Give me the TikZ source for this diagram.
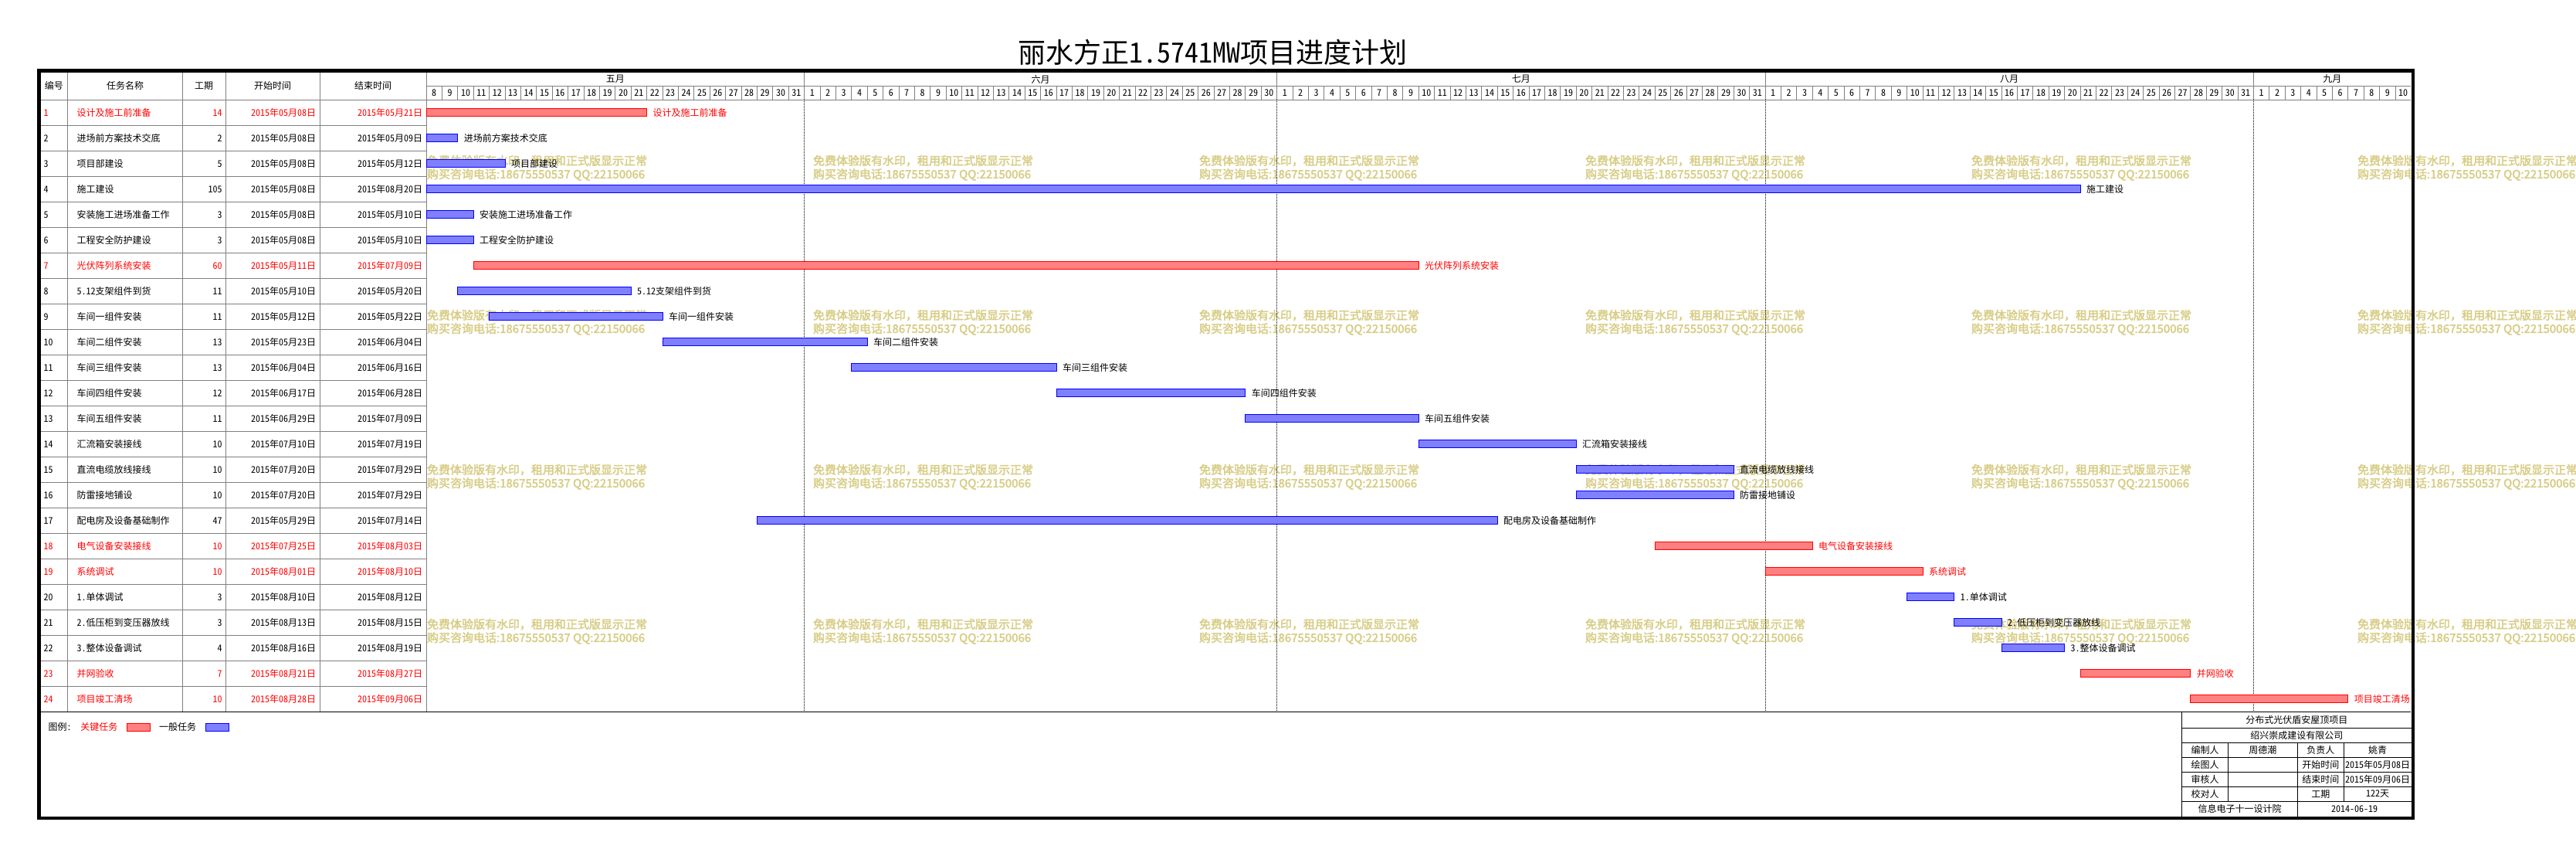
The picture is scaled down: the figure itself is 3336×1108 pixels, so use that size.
\documentclass[tikz,border=0pt]{standalone}
\usepackage{fontspec}
\setmainfont{Noto Sans CJK SC}[RawFeature=+hwid]
\newfontfamily\wmfont{Noto Sans CJK SC}[FakeBold=2.5]
\definecolor{wm}{RGB}{216,205,134}
\definecolor{gridgray}{RGB}{128,128,128}
\begin{document}
\begin{tikzpicture}[x=1pt,y=-1pt,
  every node/.style={inner sep=0pt, outer sep=0pt, font=\fontsize{12pt}{14pt}\selectfont},
  gline/.style={draw=gridgray, line width=1pt},
  bline/.style={draw=black, line width=1pt},
  ganttbar/.style={draw=#1, fill=#1!50!white, line width=1pt, minimum height=10pt, inner sep=0pt, anchor=west},
  wmtext/.style={text=wm, font=\wmfont\fontsize{15pt}{17pt}\selectfont, anchor=west},
  monthline/.style={draw=black, line width=1pt, dash pattern=on 1pt off 1pt},
  lbl/.style={anchor=west}
]
\useasboundingbox (0,0) rectangle (3336,1108);
\fill[white] (0,0) rectangle (3336,1108);

% title
\node[font=\fontsize{36pt}{40pt}\selectfont] (title) at (1570,68) {丽水方正1.5741MW项目进度计划};

% watermarks
\foreach \wx [count=\ci] in {553,1053,1553,2053,2553,3053}
  \foreach \wy [count=\ri] in {208,408,608,808} {
    \node[wmtext] (wa\ci\ri) at (\wx,\wy) {免费体验版有水印，租用和正式版显示正常};
    \node[wmtext] (wb\ci\ri) at (\wx,\wy+18) {购买咨询电话:18675550537 QQ:22150066};
  }

% table header
\node (h1) at (69.75,111) {编号};
\node (h2) at (162,111) {任务名称};
\node (h3) at (264,111) {工期};
\node (h4) at (353,111) {开始时间};
\node (h5) at (483,111) {结束时间};

% gantt header lines
\draw[gline] (552,111.7) -- (3122,111.7);
\draw[gline] (52,129.3) -- (3122,129.3);
\foreach \m in {24,54,85,116}
  \draw[gline] ({552+\m*20.4},93) -- ({552+\m*20.4},111.7);
\foreach \k in {1,...,125}
  \draw[gline] ({552+\k*20.4},111.7) -- ({552+\k*20.4},129.3);

% month labels
\node (m5) at ({552+12*20.4},102.5) {五月};
\node (m6) at ({552+39*20.4},102.5) {六月};
\node (m7) at ({552+69.5*20.4},102.5) {七月};
\node (m8) at ({552+100.5*20.4},102.5) {八月};
\node (m9) at ({552+121*20.4},102.5) {九月};

% day numbers
\foreach \k in {0,...,125} {
  \pgfmathtruncatemacro\dd{\k<24 ? \k+8 : (\k<54 ? \k-23 : (\k<85 ? \k-53 : (\k<116 ? \k-84 : \k-115)))}
  \node (day\k) at ({552+(\k+0.5)*20.4},120.5) {\dd};
}

% table grid
\foreach \cx in {87.5,236.5,292,414.5,552}
  \draw[gline] (\cx,93) -- (\cx,921.3);
\foreach \k in {1,...,23}
  \draw[gline] (52,{129.3+\k*33}) -- (552,{129.3+\k*33});

% month dotted lines
\foreach \m in {24,54,85,116}
  \draw[monthline] ({552+\m*20.4},129.3) -- ({552+\m*20.4},921.3);

% tasks
\foreach \i/\nm/\du/\sd/\ed/\s/\e/\c/\tc in {
  1/设计及施工前准备/14/2015年05月08日/2015年05月21日/0/14/red/red,
  2/进场前方案技术交底/2/2015年05月08日/2015年05月09日/0/2/blue/black,
  3/项目部建设/5/2015年05月08日/2015年05月12日/0/5/blue/black,
  4/施工建设/105/2015年05月08日/2015年08月20日/0/105/blue/black,
  5/安装施工进场准备工作/3/2015年05月08日/2015年05月10日/0/3/blue/black,
  6/工程安全防护建设/3/2015年05月08日/2015年05月10日/0/3/blue/black,
  7/光伏阵列系统安装/60/2015年05月11日/2015年07月09日/3/63/red/red,
  8/5.12支架组件到货/11/2015年05月10日/2015年05月20日/2/13/blue/black,
  9/车间一组件安装/11/2015年05月12日/2015年05月22日/4/15/blue/black,
  10/车间二组件安装/13/2015年05月23日/2015年06月04日/15/28/blue/black,
  11/车间三组件安装/13/2015年06月04日/2015年06月16日/27/40/blue/black,
  12/车间四组件安装/12/2015年06月17日/2015年06月28日/40/52/blue/black,
  13/车间五组件安装/11/2015年06月29日/2015年07月09日/52/63/blue/black,
  14/汇流箱安装接线/10/2015年07月10日/2015年07月19日/63/73/blue/black,
  15/直流电缆放线接线/10/2015年07月20日/2015年07月29日/73/83/blue/black,
  16/防雷接地铺设/10/2015年07月20日/2015年07月29日/73/83/blue/black,
  17/配电房及设备基础制作/47/2015年05月29日/2015年07月14日/21/68/blue/black,
  18/电气设备安装接线/10/2015年07月25日/2015年08月03日/78/88/red/red,
  19/系统调试/10/2015年08月01日/2015年08月10日/85/95/red/red,
  20/1.单体调试/3/2015年08月10日/2015年08月12日/94/97/blue/black,
  21/2.低压柜到变压器放线/3/2015年08月13日/2015年08月15日/97/100/blue/black,
  22/3.整体设备调试/4/2015年08月16日/2015年08月19日/100/104/blue/black,
  23/并网验收/7/2015年08月21日/2015年08月27日/105/112/red/red,
  24/项目竣工清场/10/2015年08月28日/2015年09月06日/112/122/red/red} {
  \pgfmathsetmacro\yc{129.3+(\i-0.5)*33}
  \pgfmathsetmacro\bx{552+\s*20.4}
  \pgfmathsetmacro\bw{(\e-\s)*20.4}
  \node[anchor=west, text=\tc] (n\i) at (56.5,\yc) {\i};
  \node[anchor=west, text=\tc] (t\i) at (99.5,\yc) {\nm};
  \node[anchor=east, text=\tc] (d\i) at (287.5,\yc) {\du};
  \node[anchor=east, text=\tc] (s\i) at (409,\yc) {\sd};
  \node[anchor=east, text=\tc] (e\i) at (547,\yc) {\ed};
  \node[ganttbar=\c, minimum width=\bw] (b\i) at (\bx,\yc) {};
  \node[lbl, text=\tc] (l\i) at ([xshift=8pt]b\i.east) {\nm};
}

% bottom separator
\draw[black, line width=1.5pt] (52,921.5) -- (3122,921.5);

% legend
\node[anchor=west] (lg0) at (62.7,941) {图例:};
\node[anchor=west, text=red] (lg1) at (104.3,941) {关键任务};
\node[ganttbar=red, minimum width=30] (lgr) at (164,941) {};
\node[anchor=west] (lg2) at (206,941) {一般任务};
\node[ganttbar=blue, minimum width=30] (lgb) at (266,941) {};

% title block
\draw[bline] (2825.7,921.5) -- (2825.7,1057);
\foreach \yy in {942.7,961.7,980.5,999.3,1018.3,1037.3}
  \draw[bline] (2825.7,\yy) -- (3123,\yy);
\draw[bline] (2885.3,961.7) -- (2885.3,1037.3);
\draw[bline] (3035.3,961.7) -- (3035.3,1037.3);
\draw[bline] (2975.3,961.7) -- (2975.3,1057);
\node (tb1) at (2974.3,932.1) {分布式光伏盾安屋顶项目};
\node (tb2) at (2974.3,952.2) {绍兴崇成建设有限公司};
\node (tb31) at (2855.5,971.1) {编制人};
\node (tb32) at (2930.3,971.1) {周德潮};
\node (tb33) at (3005.3,971.1) {负责人};
\node (tb34) at (3079.1,971.1) {姚青};
\node (tb41) at (2855.5,989.9) {绘图人};
\node (tb43) at (3005.3,989.9) {开始时间};
\node (tb44) at (3079.1,989.9) {2015年05月08日};
\node (tb51) at (2855.5,1008.8) {审核人};
\node (tb53) at (3005.3,1008.8) {结束时间};
\node (tb54) at (3079.1,1008.8) {2015年09月06日};
\node (tb61) at (2855.5,1027.8) {校对人};
\node (tb63) at (3005.3,1027.8) {工期};
\node (tb64) at (3079.1,1027.8) {122天};
\node (tb71) at (2900.5,1047) {信息电子十一设计院};
\node (tb72) at (3049.1,1047) {2014-06-19};

% frame
\draw[black, line width=4.5pt] (50.3,91.3) rectangle (3125,1059);
\end{tikzpicture}
\end{document}
